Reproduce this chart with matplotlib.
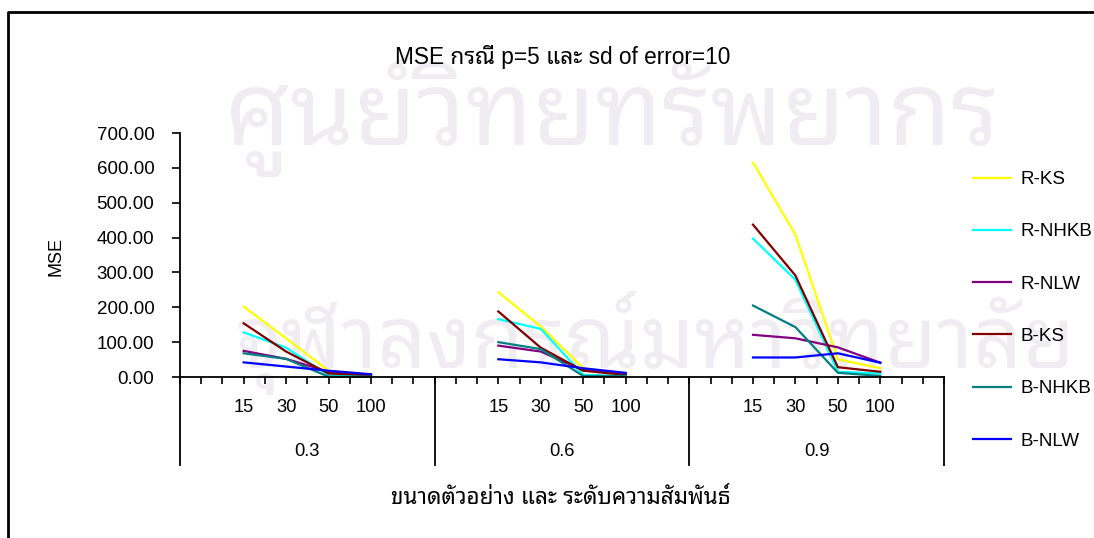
import matplotlib
matplotlib.use("Agg")
import matplotlib.pyplot as plt
from matplotlib.lines import Line2D
from matplotlib.ticker import FixedLocator, MultipleLocator, FormatStrFormatter
import numpy as np

# fonts: arial-like latin, thai glyphs from a thai family
THAI = ['Noto Sans Thai Looped', 'Noto Sans Thai', 'Sarabun', 'DejaVu Sans']
ARIAL = ['Liberation Sans'] + THAI

sizes = ['15', '30', '50', '100']
rho = ['0.3', '0.6', '0.9']

# MSE, 4 sample sizes for each correlation level
R_KS   = [202, 111, 18, 6,   243, 145, 25, 9,   615, 408, 51, 25]
R_NHKB = [128, 84, 5, 3,     166, 138, 6, 3,    397, 279, 15, 10]
R_NLW  = [75, 52, 15, 4,     90, 73, 20, 9,     121, 111, 85, 41]
B_KS   = [154, 73, 10, 6,    188, 84, 18, 6,    437, 291, 28, 15]
B_NHKB = [68, 52, 1, 1,      100, 80, 3, 3,     205, 143, 12, 3]
B_NLW  = [42, 30, 18, 8,     51, 42, 25, 12,    56, 56, 68, 41]

series = [('R-KS', R_KS, '#FFFF00'),
          ('R-NHKB', R_NHKB, '#00FFFF'),
          ('R-NLW', R_NLW, '#800080'),
          ('B-KS', B_KS, '#800000'),
          ('B-NHKB', B_NHKB, '#008080'),
          ('B-NLW', B_NLW, '#0000FF')]

W, H = 1094, 538
fig = plt.figure(figsize=(W / 100, H / 100), dpi=100)
r = fig.canvas.get_renderer()

def fit_width(t, target):
    # rescale a text so its width in pixels is about `target`
    fs = t.get_fontsize()
    w = t.get_window_extent(r).width
    t.set_fontsize(fs * target / w)

# faint background stamp
wm1 = fig.text(225 / W, 1 - 145 / H, 'ศูนย์วิทยทรัพยากร', family=THAI, weight='bold',
               color='#efedf1', fontsize=100, va='baseline', ha='left', zorder=-5)
wm2 = fig.text(235 / W, 1 - 368 / H, 'จุฬาลงกรณ์มหาวิทยาลัย', family=THAI, weight='bold',
               color='#efedf1', fontsize=100, va='baseline', ha='left', zorder=-5)
fit_width(wm1, 775)
fit_width(wm2, 840)

# chart frame (left and top edges only)
fig.add_artist(Line2D([8 / W, 8 / W, 1], [0, 1 - 12 / H, 1 - 12 / H], color='black', lw=2,
                      transform=fig.transFigure))

ax = fig.add_axes([180 / W, 1 - 377 / H, 764 / W, 244 / H])
ax.set_facecolor('none')

npts = len(sizes)
offs = np.array([3, 5, 7, 9])
for name, vals, col in series:
    for g in range(len(rho)):
        xs = g * 12 + offs
        ys = vals[g * npts:(g + 1) * npts]
        ax.plot(xs, ys, color=col, lw=1.6, label=name if g == 0 else None, clip_on=False)

ax.set_xlim(0, 36)
ax.set_ylim(0, 700)
ax.yaxis.set_major_locator(MultipleLocator(100))
ax.yaxis.set_major_formatter(FormatStrFormatter('%.2f'))
ax.tick_params(axis='y', direction='out', length=6, width=1.2, pad=12.5, labelsize=13.5)
for lab in ax.get_yticklabels():
    lab.set_family(ARIAL)

cat_x = [g * 12 + o for g in range(len(rho)) for o in offs]
ax.xaxis.set_major_locator(FixedLocator(cat_x))
ax.set_xticklabels(sizes * len(rho), family=ARIAL, fontsize=13.2)
ax.xaxis.set_minor_locator(MultipleLocator(1))
ax.tick_params(axis='x', which='both', direction='out', length=5, width=1.2)
ax.tick_params(axis='x', which='major', pad=11)

for s in ['top', 'right']:
    ax.spines[s].set_visible(False)
for s in ['left', 'bottom']:
    ax.spines[s].set_linewidth(1.3)

# group separators and correlation labels
bt = ax.get_xaxis_transform()
for g in range(len(rho) + 1):
    ax.plot([g * 12, g * 12], [0, -88 / 244], color='black', lw=1.3, transform=bt, clip_on=False)
for g, lab in enumerate(rho):
    ax.text(g * 12 + 6, -74 / 244, lab, transform=bt, ha='center', va='center',
            family=ARIAL, fontsize=13.2)

fig.text(56 / W, 1 - 256 / H, 'MSE', rotation=90, ha='center', va='center', family=ARIAL, fontsize=13)
title = fig.text(563 / W, 1 - 57 / H, 'MSE กรณี p=5 และ sd of error=10', ha='center', va='center',
                 family=ARIAL, fontsize=13)
xlab = fig.text(561 / W, 1 - 498 / H, 'ขนาดตัวอย่าง และ ระดับความสัมพันธ์', ha='center', va='center',
                family=ARIAL, fontsize=13, weight='bold')
fit_width(title, 335)
fit_width(xlab, 340)

ax.legend(loc='upper left', bbox_to_anchor=(973 / W, 1 - 171 / H), bbox_transform=fig.transFigure,
          frameon=False, borderpad=0, borderaxespad=0, handlelength=2.0, handletextpad=0.55,
          labelspacing=1.875, prop={'family': ARIAL, 'size': 13.5})

fig.savefig('out.png', dpi=100)
